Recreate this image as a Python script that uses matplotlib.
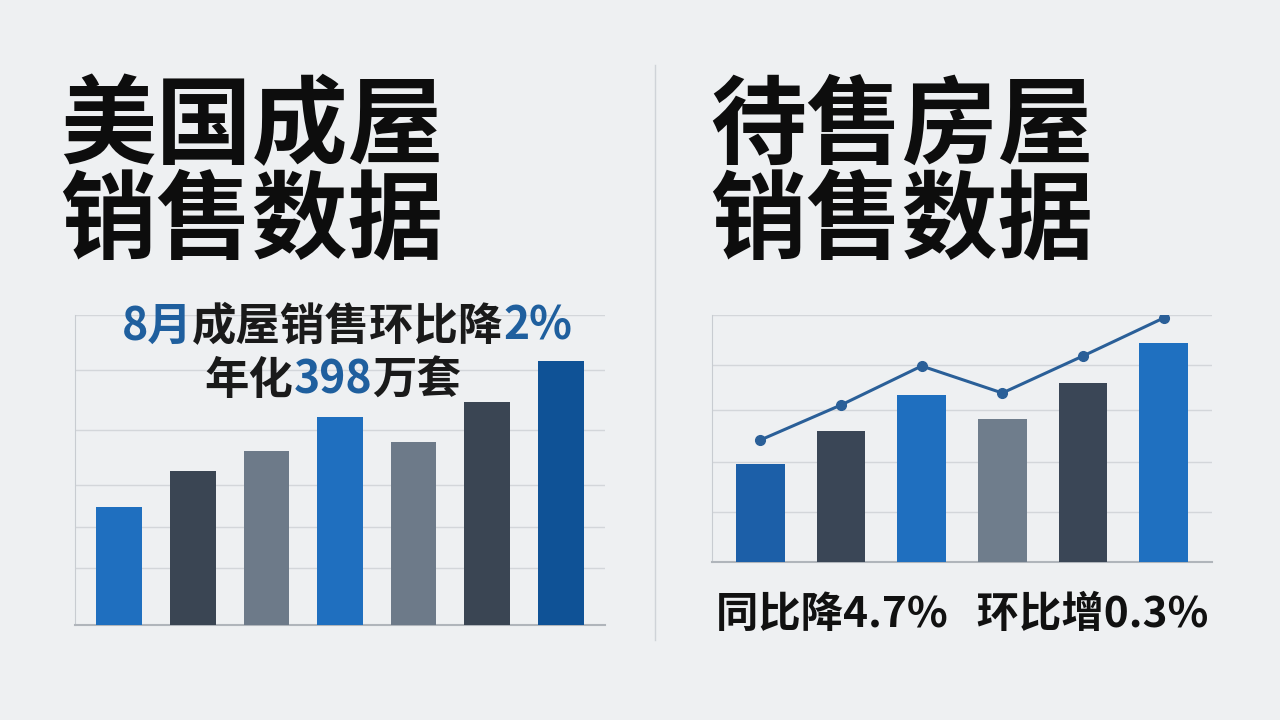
import matplotlib
matplotlib.use("Agg")
import matplotlib.pyplot as plt

plt.rcParams['font.family'] = ['Noto Sans CJK SC', 'DejaVu Sans']

left_values = [118, 154, 174, 208, 183, 223, 264]
left_colors = ['#1f6fbf', '#3a4553', '#6d7a89', '#1f6fbf', '#6d7a89', '#3a4553', '#0f5296']
right_bars = [98, 131, 167, 143, 179, 219]
right_line = [122, 157, 196, 169, 206, 244]
right_colors = ['#1c5fa8', '#3a4656', '#1f6fbf', '#6f7d8c', '#3a4656', '#1f70c0']
left_title = ['美国成屋', '销售数据']
right_title = ['待售房屋', '销售数据']
sub1 = [('8月', '#1f5f9e'), ('成屋销售环比降', '#1a1a1a'), ('2%', '#1f5f9e')]
sub2 = [('年化', '#1a1a1a'), ('398', '#1f5f9e'), ('万套', '#1a1a1a')]
bottom_text = '同比降4.7%   环比增0.3%'

W, H = 1280, 720
fig = plt.figure(figsize=(12.8, 7.2), dpi=100)
fig.patch.set_facecolor('#eef0f2')

def ax_px(x0, y0, x1, y1):
    return fig.add_axes([x0 / W, 1 - y1 / H, (x1 - x0) / W, (y1 - y0) / H])

fig.add_artist(plt.Line2D([655 / W, 655 / W], [1 - 640 / H, 1 - 65 / H], color='#cfd3d8', lw=1))

def style(ax, ymax, grids):
    ax.set_facecolor('none')
    ax.set_ylim(0, ymax)
    for s in ['top', 'right']:
        ax.spines[s].set_visible(False)
    ax.spines['left'].set_color('#c8ccd1')
    ax.spines['bottom'].set_color('#b0b5bb')
    ax.spines['bottom'].set_linewidth(1.5)
    ax.set_xticks([]); ax.set_yticks(grids)
    ax.set_yticklabels([])
    ax.tick_params(length=0)
    ax.grid(axis='y', color='#d3d6da', lw=1)
    ax.set_axisbelow(True)

ax1 = ax_px(75, 315, 605, 625)
style(ax1, 310, [57, 98, 140, 195, 255, 310])
x = list(range(len(left_values)))
ax1.bar(x, left_values, width=0.62, color=left_colors, zorder=3)
ax1.set_xlim(-0.6, len(x) - 0.4)

ax2 = ax_px(712, 315, 1212, 562)
style(ax2, 247, [50, 100, 152, 197, 247])
x2 = list(range(len(right_bars)))
ax2.bar(x2, right_bars, width=0.6, color=right_colors, zorder=3)
ax2.plot(x2, right_line, color='#2a5f98', lw=2.2, marker='o', ms=7, zorder=4)
ax2.set_xlim(-0.6, len(x2) - 0.4)

for i, t in enumerate(left_title):
    fig.text(60 / W, 1 - (128 + i * 95) / H, t, fontsize=69, fontweight='heavy', va='center', color='#0d0d0d')
for i, t in enumerate(right_title):
    fig.text(710 / W, 1 - (128 + i * 95) / H, t, fontsize=69, fontweight='heavy', va='center', color='#0d0d0d')

fig.canvas.draw()
r = fig.canvas.get_renderer()

def multi(pieces, cx, cy, size):
    texts = []
    widths = []
    for s, c in pieces:
        t = fig.text(0, 1 - cy / H, s, fontsize=size, fontweight='bold', color=c, va='center')
        texts.append(t)
        widths.append(t.get_window_extent(r).width)
    x0 = cx - sum(widths) / 2
    for t, w in zip(texts, widths):
        t.set_x(x0 / W)
        x0 += w

multi(sub1, 347, 327, 32)
multi(sub2, 333, 381, 32)
fig.text(962 / W, 1 - 615 / H, bottom_text, fontsize=30.5, fontweight='bold', ha='center', va='center', color='#111111')

fig.savefig('out.png', dpi=100, facecolor=fig.get_facecolor())
